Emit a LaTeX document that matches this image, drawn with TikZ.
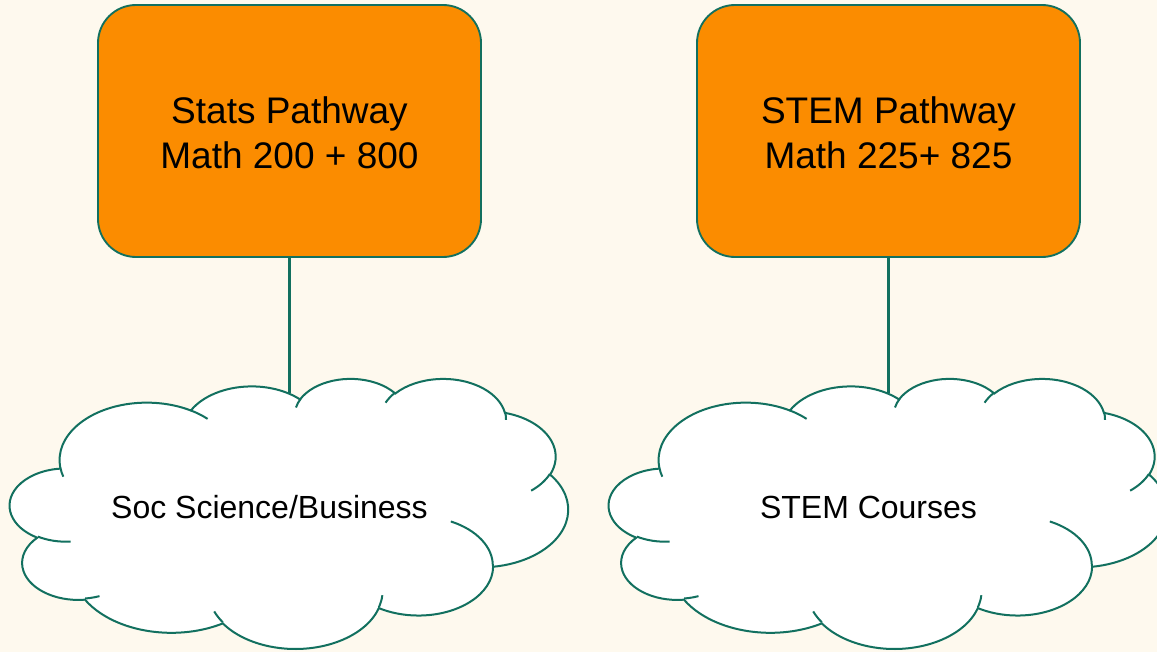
\documentclass[tikz,border=0pt]{standalone}
\usepackage{fontspec}
\setmainfont{Liberation Sans}
\definecolor{bgcream}{HTML}{FEF9EE}
\definecolor{boxorange}{HTML}{FB8C00}
\definecolor{tealline}{HTML}{12705F}
\tikzset{
  pathbox/.style={draw=tealline, line width=1.4pt, fill=boxorange, rounded corners=28.5pt,
    minimum width=287.25pt, minimum height=189pt, inner sep=0pt, align=center,
    font=\fontsize{27.75}{33.75}\selectfont, text=black, text height=56.2pt},
  cloudtext/.style={font=\fontsize{24}{28}\selectfont, anchor=base, inner sep=0pt, text=black},
  link/.style={draw=tealline, line width=1.6pt},
}
% Office-style cloud, drawn in a 43.2 x 43.2 unit frame scaled to w x h px
\newcommand\cldmove[2]{%
  \pgfmathsetmacro\cldPx{0.75*(\cldX+#1/43.2*\cldW)}%
  \pgfmathsetmacro\cldPy{-0.75*(\cldY+#2/43.2*\cldH)}%
  \pgfpathmoveto{\pgfpoint{\cldPx pt}{\cldPy pt}}%
}
\newcommand\cldarc[4]{% wR hR start sweep (visual angles, degrees)
  \pgfmathsetmacro\cldA{#3}%
  \pgfmathsetmacro\cldB{#3+#4}%
  \pgfmathsetmacro\cldTa{atan2(#1*sin(\cldA),#2*cos(\cldA))}%
  \pgfmathsetmacro\cldTb{atan2(#1*sin(\cldB),#2*cos(\cldB))}%
  \pgfmathsetmacro\cldD{\cldTb-\cldTa}%
  \pgfmathsetmacro\cldD{\cldD-360*round((\cldD-(#4))/360)}%
  \pgfmathsetmacro\cldE{\cldTa+\cldD}%
  \pgfmathsetmacro\cldRx{0.75*#1/43.2*\cldW}%
  \pgfmathsetmacro\cldRy{0.75*#2/43.2*\cldH}%
  \pgfpatharcaxes{\cldTa}{\cldE}{\pgfpoint{\cldRx pt}{0pt}}{\pgfpoint{0pt}{-\cldRy pt}}%
}
\newcommand\drawcloud[4]{%
  \def\cldX{#1}\def\cldY{#2}\def\cldW{#3}\def\cldH{#4}%
  \begin{pgfscope}
  \pgfsetlinewidth{1.5pt}%
  \pgfsetstrokecolor{tealline}\pgfsetfillcolor{white}%
  \cldmove{3.900}{14.370}%
  \cldarc{6.753}{9.190}{-190.4875}{123.7805}%
  \cldarc{5.333}{7.267}{-144.1024}{89.9452}%
  \cldarc{4.365}{5.945}{-145.8079}{99.7230}%
  \cldarc{4.857}{6.595}{-130.9861}{117.2417}%
  \cldarc{5.333}{7.273}{-78.7089}{109.0269}%
  \cldarc{6.775}{9.220}{-46.2673}{130.2690}%
  \cldarc{5.785}{7.867}{0.6250}{114.0333}%
  \cldarc{6.752}{9.215}{22.4516}{115.1726}%
  \cldarc{7.720}{10.543}{66.2426}{75.7110}%
  \cldarc{4.360}{5.918}{-274.9421}{146.7356}%
  \cldarc{4.345}{5.945}{-246.8285}{152.5189}%
  \pgfpathclose
  \pgfusepath{fill,stroke}%
  \cldmove{4.693}{26.177}\cldarc{4.345}{5.945}{86.7420}{26.4295}%
  \cldmove{6.928}{34.899}\cldarc{4.360}{5.918}{73.6105}{11.4475}%
  \cldmove{16.478}{39.090}\cldarc{6.752}{9.215}{137.6242}{14.0811}%
  \cldmove{28.827}{34.751}\cldarc{6.752}{9.215}{6.4533}{15.9984}%
  \cldmove{34.129}{22.954}\cldarc{5.785}{7.867}{-70.2924}{70.9174}%
  \cldmove{41.798}{15.354}\cldarc{5.333}{7.273}{30.3180}{27.7515}%
  \cldmove{38.324}{5.426}\cldarc{4.857}{6.595}{-13.7443}{14.8589}%
  \cldmove{29.078}{3.952}\cldarc{4.857}{6.595}{-149.1815}{18.1954}%
  \cldmove{22.141}{4.720}\cldarc{4.365}{5.945}{-163.4943}{17.6864}%
  \cldmove{14.000}{5.192}\cldarc{6.753}{9.190}{-66.7070}{12.3194}%
  \cldmove{4.127}{15.789}\cldarc{6.753}{9.190}{157.6544}{11.8582}%
  \pgfusepath{stroke}%
  \end{pgfscope}%
}
\begin{document}
\begin{tikzpicture}[x=0.75pt,y=-0.75pt]
\fill[bgcream] (0,0) rectangle (1157,652);
\useasboundingbox (0,0) rectangle (1157,652);
\clip (0,0) rectangle (1157,652);
\node[pathbox] (stats) at (289.5,131) {Stats Pathway\\Math 200 + 800};
\node[pathbox] (stem) at (888.5,131) {STEM Pathway\\Math 225+ 825};
\coordinate (statsin) at (289.5,393);
\coordinate (stemin) at (888.5,393);
\draw[link] (stats.south) -- (statsin);
\draw[link] (stem.south) -- (stemin);
\drawcloud{10}{378}{558}{270}
\drawcloud{609}{378}{558}{270}
\node[cloudtext] (soc) at (269.5,518) {Soc Science/Business};
\node[cloudtext] (stemc) at (868.5,518) {STEM Courses};
\end{tikzpicture}
\end{document}
